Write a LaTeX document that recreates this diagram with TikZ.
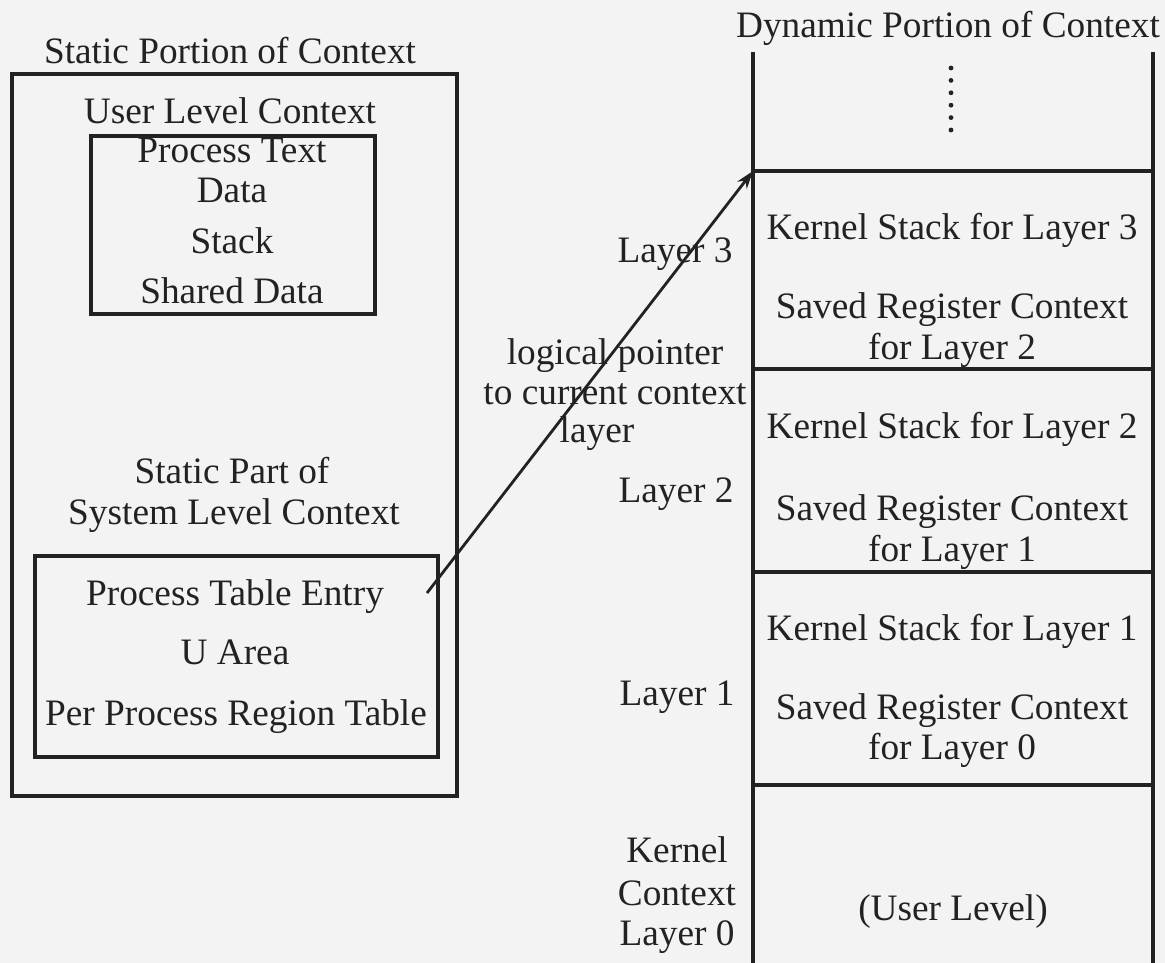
\documentclass[tikz,border=0pt]{standalone}
\usepackage{fontspec}
\setmainfont{Liberation Serif}
\usetikzlibrary{arrows.meta}
\definecolor{ink}{HTML}{222222}
\definecolor{paper}{HTML}{F3F3F3}
\begin{document}
\begin{tikzpicture}[x=1pt,y=-1pt,
  every node/.style={text=ink},
  lbl/.style={anchor=base,inner sep=0pt,font=\fontsize{37.3}{42}\selectfont},
  boxn/.style={draw=ink,line width=3.2pt,inner sep=0pt},
  ln/.style={draw=ink,line width=3.2pt},
  ptrarrow/.style={draw=ink,line width=2.8pt,-{Stealth[length=18pt,width=12pt]}}]
\fill[paper] (0,0) rectangle (1165,963);
\useasboundingbox (0,0) rectangle (1165,963);

% ---- static portion (left) ----
\node[lbl] (stitle) at (230,64) {Static Portion of Context};
\node[boxn,minimum width=445pt,minimum height=722pt] (static) at (234.5,435) {};
\node[lbl] (ulc) at (230,124) {User Level Context};
\node[boxn,minimum width=284pt,minimum height=178pt] (user) at (233,225) {};
\node[lbl] (ptext) at (232,163) {Process Text};
\node[lbl] (pdata) at (232,203) {Data};
\node[lbl] (pstack) at (232,253) {Stack};
\node[lbl] (pshared) at (232,303) {Shared Data};
\node[lbl] (spo) at (232,483) {Static Part of};
\node[lbl] (slc) at (234,524) {System Level Context};
\node[boxn,minimum width=403pt,minimum height=201pt] (sys) at (236.5,656.5) {};
\node[lbl] (pte) at (235,605) {Process Table Entry};
\node[lbl] (uarea) at (235,664) {U Area};
\node[lbl] (pprt) at (236,725) {Per Process Region Table};

% ---- dynamic portion (right) ----
\node[lbl] (dtitle) at (948,38) {Dynamic Portion of Context};
\coordinate (tl) at (753,52);
\coordinate (tr) at (1153,52);
\coordinate (bl) at (753,963);
\coordinate (br) at (1153,963);
\draw[ln] (tl) -- (bl);
\draw[ln] (tr) -- (br);
\coordinate (h3l) at (753,171);  \coordinate (h3r) at (1153,171);
\coordinate (h2l) at (753,369);  \coordinate (h2r) at (1153,369);
\coordinate (h1l) at (753,572);  \coordinate (h1r) at (1153,572);
\coordinate (h0l) at (753,785);  \coordinate (h0r) at (1153,785);
\draw[ln] (h3l) -- (h3r);
\draw[ln] (h2l) -- (h2r);
\draw[ln] (h1l) -- (h1r);
\draw[ln] (h0l) -- (h0r);
\draw[ink,line width=4.8pt,line cap=round,dash pattern=on 0pt off 12.4pt] (951,68) -- (951,131);

\node[lbl] (ks3) at (952,239) {Kernel Stack for Layer 3};
\node[lbl] (sr2a) at (952,318) {Saved Register Context};
\node[lbl] (sr2b) at (952,359) {for Layer 2};
\node[lbl] (ks2) at (952,438) {Kernel Stack for Layer 2};
\node[lbl] (sr1a) at (952,520) {Saved Register Context};
\node[lbl] (sr1b) at (952,561) {for Layer 1};
\node[lbl] (ks1) at (952,640) {Kernel Stack for Layer 1};
\node[lbl] (sr0a) at (952,719) {Saved Register Context};
\node[lbl] (sr0b) at (952,759) {for Layer 0};
\node[lbl] (ulev) at (953,920) {(User Level)};

% ---- layer labels ----
\node[lbl] (lay3) at (675,262) {Layer 3};
\node[lbl] (lay2) at (676,502) {Layer 2};
\node[lbl] (lay1) at (677,705) {Layer 1};
\node[lbl] (k0a) at (677,862) {Kernel};
\node[lbl] (k0b) at (677,905) {Context};
\node[lbl] (k0c) at (677,945) {Layer 0};

% ---- pointer ----
\node[lbl] (lp1) at (615,364) {logical pointer};
\node[lbl] (lp2) at (615,404) {to current context};
\node[lbl] (lp3) at (597,442) {layer};
\coordinate (ptail) at (427,593);
\draw[ptrarrow] (ptail) -- (h3l);
\end{tikzpicture}
\end{document}
